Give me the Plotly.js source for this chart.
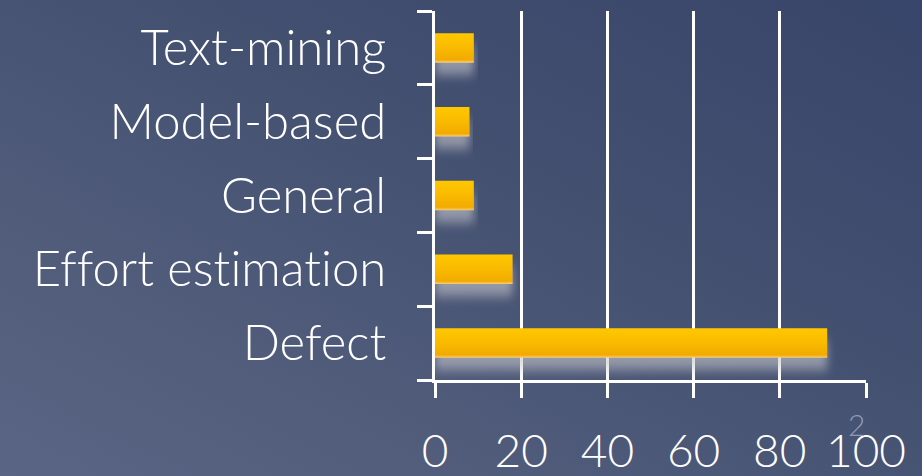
<!DOCTYPE html>
<html>
<head>
<meta charset="utf-8">
<script src="https://cdn.plot.ly/plotly-3.0.1.min.js"></script>
<style>
  html, body { margin: 0; padding: 0; width: 922px; height: 476px; overflow: hidden; }
  body { background: linear-gradient(to bottom left, #38456a 0%, #435070 40%, #525d7c 75%, #5a6585 100%); }
  #chart { width: 922px; height: 476px; }
  #chart text { font-variant-ligatures: none; font-feature-settings: "liga" 0; }
</style>
</head>
<body>
<div id="chart"></div>
<script>
// Studies per category
const categories = ["Defect", "Effort estimation", "General", "Model-based", "Text-mining"];
const counts = [91, 18, 9, 8, 9];
const xTickValues = [0, 20, 40, 60, 80, 100];
const slideNumber = "2";

const fontFamily = "Lato, 'DejaVu Sans', sans-serif";

const trace = {
  type: "bar",
  orientation: "h",
  x: counts,
  y: categories,
  marker: { color: "#f6b800", line: { width: 0 } },
  hoverinfo: "none"
};

const layout = {
  width: 922,
  height: 476,
  margin: { l: 435, r: 56, t: 11, b: 96 },
  paper_bgcolor: "rgba(0,0,0,0)",
  plot_bgcolor: "rgba(0,0,0,0)",
  bargap: 0.6,
  showlegend: false,
  xaxis: {
    range: [0, 100],
    tickvals: xTickValues,
    ticktext: xTickValues.map(String),
    showgrid: true,
    gridcolor: "#ffffff",
    gridwidth: 3,
    zeroline: false,
    showline: true,
    linecolor: "#ffffff",
    linewidth: 3,
    ticks: "outside",
    ticklen: 15,
    tickwidth: 3,
    tickcolor: "#ffffff",
    tickfont: { family: fontFamily, size: 46, color: "#ffffff", weight: 300 },
    ticklabelstandoff: 14,
    fixedrange: true
  },
  yaxis: {
    type: "category",
    categoryorder: "array",
    categoryarray: categories,
    showgrid: false,
    zeroline: false,
    showline: true,
    linecolor: "#ffffff",
    linewidth: 3,
    ticks: "outside",
    tickson: "boundaries",
    ticklen: 15,
    tickwidth: 3,
    tickcolor: "#ffffff",
    tickfont: { family: fontFamily, size: 49, color: "#ffffff", weight: 300 },
    ticklabelstandoff: 36,
    fixedrange: true
  },
  annotations: [{
    text: slideNumber,
    xref: "paper", yref: "paper",
    x: 0.979, y: -0.12,
    xanchor: "center", yanchor: "middle",
    showarrow: false,
    font: { family: fontFamily, size: 30, color: "#8e9ab6", weight: 300 }
  }]
};

Plotly.newPlot("chart", [trace], layout, { staticPlot: true, displayModeBar: false }).then(function (gd) {
  // Gold gradient fill and a soft pale haze beneath each bar
  const svg = gd.querySelector(".main-svg");
  const ns = "http://www.w3.org/2000/svg";
  let defs = svg.querySelector("defs");
  if (!defs) { defs = document.createElementNS(ns, "defs"); svg.insertBefore(defs, svg.firstChild); }
  defs.insertAdjacentHTML("beforeend",
    '<linearGradient id="barGold" x1="0" y1="0" x2="0" y2="1">' +
      '<stop offset="0" stop-color="#ffc800"/>' +
      '<stop offset="0.55" stop-color="#f8b800"/>' +
      '<stop offset="0.9" stop-color="#f2aa00"/>' +
      '<stop offset="1" stop-color="#f8cf78"/>' +
    '</linearGradient>' +
    '<filter id="barGlow" x="-10%" y="-30%" width="120%" height="220%">' +
      '<feGaussianBlur in="SourceAlpha" stdDeviation="4 6" result="blur"/>' +
      '<feOffset in="blur" dy="12" result="off"/>' +
      '<feFlood flood-color="#c8c8cc" flood-opacity="0.6"/>' +
      '<feComposite in2="off" operator="in" result="glow"/>' +
      '<feMerge><feMergeNode in="glow"/><feMergeNode in="SourceGraphic"/></feMerge>' +
    '</filter>');
  gd.querySelectorAll(".barlayer .point path").forEach(function (p) {
    p.style.fill = "url(#barGold)";
    p.setAttribute("filter", "url(#barGlow)");
  });
});
</script>
</body>
</html>
